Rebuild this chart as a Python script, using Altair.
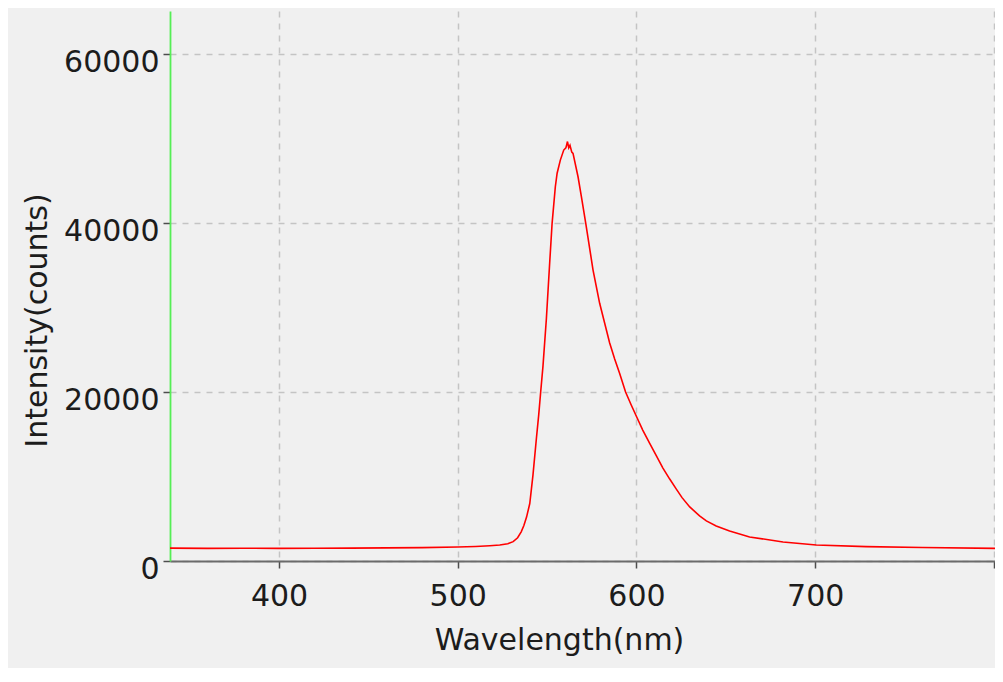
import altair as alt
import pandas as pd

# Spectrum
wavelength = [339, 360, 380, 400, 420, 440, 460, 480, 500, 510, 517.9, 523.5, 528, 531, 533.5,
              535.5, 537, 538.5, 540.3, 542.1, 544, 545.3, 546.4, 547.7, 549.6, 551.5, 552.8,
              554.6, 555.6, 557.4, 559.3, 560.5, 561.4, 562.1, 562.8, 563.8, 564.5, 567.3,
              569.2, 571.6, 575.7, 579.4, 585, 587.8, 590.6, 593.9, 597, 600, 603.5, 607.4,
              611, 614.8, 618.6, 622.3, 625.5, 629.8, 635.3, 639.1, 644.6, 652.1, 663.3, 682,
              700.6, 728.5, 760, 800.6]
intensity = [1520, 1500, 1510, 1500, 1510, 1520, 1550, 1580, 1650, 1720, 1810, 1890, 2050, 2290, 2750,
             3450, 4200, 5200, 6800, 10200, 14500, 17300, 20000, 23100, 28700, 35500, 40000,
             44300, 45900, 47450, 48640, 48900, 49650, 48900, 49200, 48400, 48250, 45480,
             43100, 40000, 34440, 30500, 25800, 23900, 22200, 20000, 18500, 17100, 15500, 13930,
             12500, 11000, 9700, 8500, 7500, 6400, 5350, 4750, 4150, 3550, 2850, 2250,
             1890, 1700, 1600, 1500]

x_ticks = [400, 500, 600, 700, 800]
y_ticks = [0, 20000, 40000, 60000]
x_domain = [339, 800.6]
y_domain = [0, 65100]

df = pd.DataFrame({"Wavelength": wavelength, "Intensity": intensity})

FONT = "DejaVu Sans"
TXT = "#1c1c1c"

chart = alt.Chart(df).mark_line(color="#ff0000", strokeWidth=1.6, clip=True).encode(
    x=alt.X(
        "Wavelength:Q",
        scale=alt.Scale(domain=x_domain, nice=False, zero=False),
        axis=alt.Axis(
            values=x_ticks,
            title="Wavelength(nm)",
            labelExpr="datum.value >= 800 ? '' : datum.label",
            labelFlush=False,
            labelBaseline="alphabetic",
            labelAlign="center",
            labelPadding=37,
            domainColor="#6b6b6b",
            domainWidth=2,
            titleX=389,
            titleY=88,
            titleAlign="center",
            titleBaseline="alphabetic",
        ),
    ),
    y=alt.Y(
        "Intensity:Q",
        scale=alt.Scale(domain=y_domain, nice=False),
        axis=alt.Axis(
            values=y_ticks,
            format="d",
            title="Intensity(counts)",
            labelBaseline="alphabetic",
            labelAlign="right",
            labelPadding=4,
            labelOffset=17,
            domainColor="#55ee55",
            domainWidth=1.8,
            titleX=-123.5,
            titleY=309,
            titleAngle=270,
            titleAlign="center",
            titleBaseline="alphabetic",
        ),
    ),
).properties(
    width=825,
    height=550,
    autosize=alt.AutoSizeParams(type="none"),
    padding={"left": 162, "top": 3, "right": 0, "bottom": 107},
    background="#f0f0f0",
).configure_view(
    stroke=None,
    fill="#f0f0f0",
).configure_axis(
    grid=True,
    gridColor="#c4c4c4",
    gridDash=[6, 6],
    gridWidth=1.5,
    tickColor="#4d4d4d",
    tickSize=7,
    tickWidth=1.5,
    labelFont=FONT,
    labelFontSize=30,
    labelColor=TXT,
    titleFont=FONT,
    titleFontSize=30,
    titleFontWeight="normal",
    titleColor=TXT,
    labelOverlap=False,
)

chart.save("out.html", embed_options={"renderer": "svg", "actions": False})
